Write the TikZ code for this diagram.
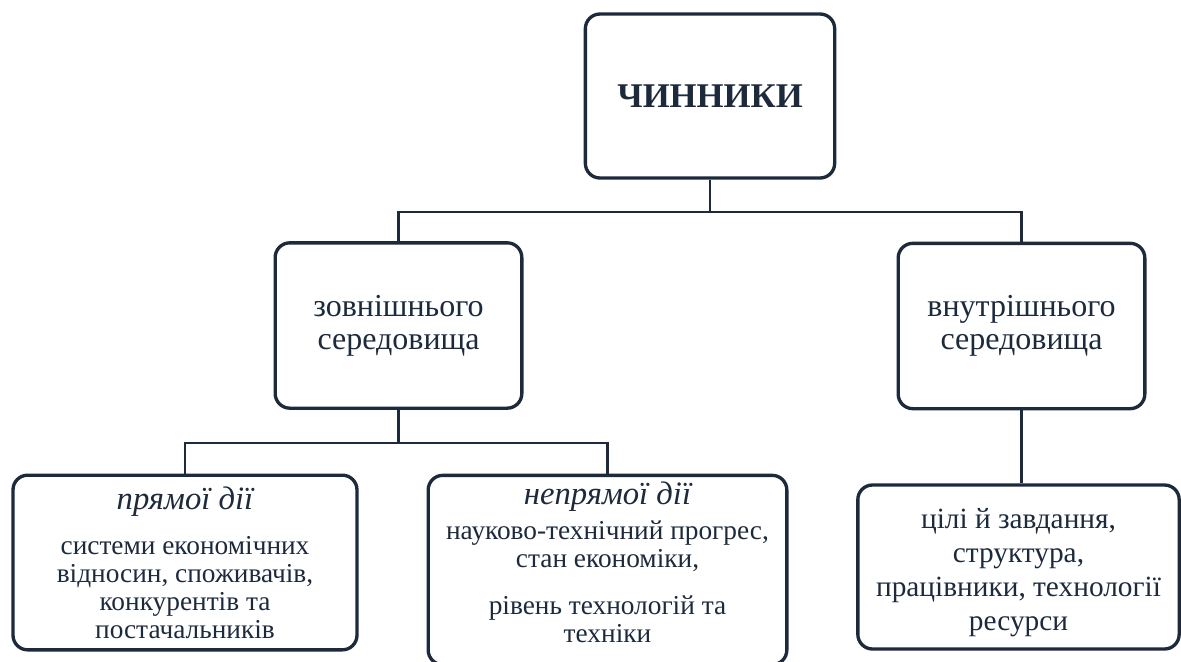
\documentclass[tikz,border=0pt]{standalone}
\usepackage{fontspec}
\setmainfont{Liberation Serif}
\definecolor{ink}{HTML}{1D2A3C}

\begin{document}
\begin{tikzpicture}[x=0.75pt, y={(0pt,-0.75pt)}, line width=1.7pt, color=ink,
		main/.style={draw=ink, rounded corners=11pt, line width=2.5pt, align=center, inner sep=0pt},
		top/.style={main, minimum width=187pt, minimum height=123pt, font=\fontsize{26}{30}\selectfont\bfseries},
		mid/.style={main, minimum width=185pt, minimum height=124pt, font=\fontsize{24}{25}\selectfont},
		low/.style={main, font=\fontsize{20.5}{21}\selectfont}]
		\useasboundingbox (0,0) rectangle (1181,661);

		\node[top] (1) at (710,96) {ЧИННИКИ};
		\node[mid] (2) at (398.5,325.5) {зовнішнього\\середовища};
		\node[mid] (3) at (1021.5,326) {внутрішнього\\середовища};
		\node[low, minimum width=258pt, minimum height=131pt] (4) at (185,562.5)
			{{\fontsize{24.5}{25}\selectfont\itshape прямої дії}\\[13pt]
			системи економічних\\відносин, споживачів,\\конкурентів та\\постачальників};
		\node[low, minimum width=269pt, minimum height=142pt] (5) at (607.5,570)
			{{\fontsize{24.5}{25}\selectfont\itshape непрямої дії}\\[5pt]
			науково-технічний прогрес,\\стан економіки,\\[14pt]
			рівень технологій та\\техніки\rule[-12pt]{0pt}{12pt}};
		\node[low, minimum width=241pt, minimum height=123pt, font=\fontsize{22}{25.5}\selectfont] (6) at (1018.5,567)
			{\rule{0pt}{24pt}цілі й завдання,\\структура,\\працівники, технології\\ресурси};

		\draw (1.south) -- ++(0,32) -| (2.north);
		\draw (1.south) -- ++(0,32) -| (3.north);
		\draw (2.south) -- ++(0,33) -| (4.north);
		\draw (2.south) -- ++(0,33) -| (5.north);
		\draw (3.south) -- (3.south |- 6.north);
	\end{tikzpicture}
\end{document}
